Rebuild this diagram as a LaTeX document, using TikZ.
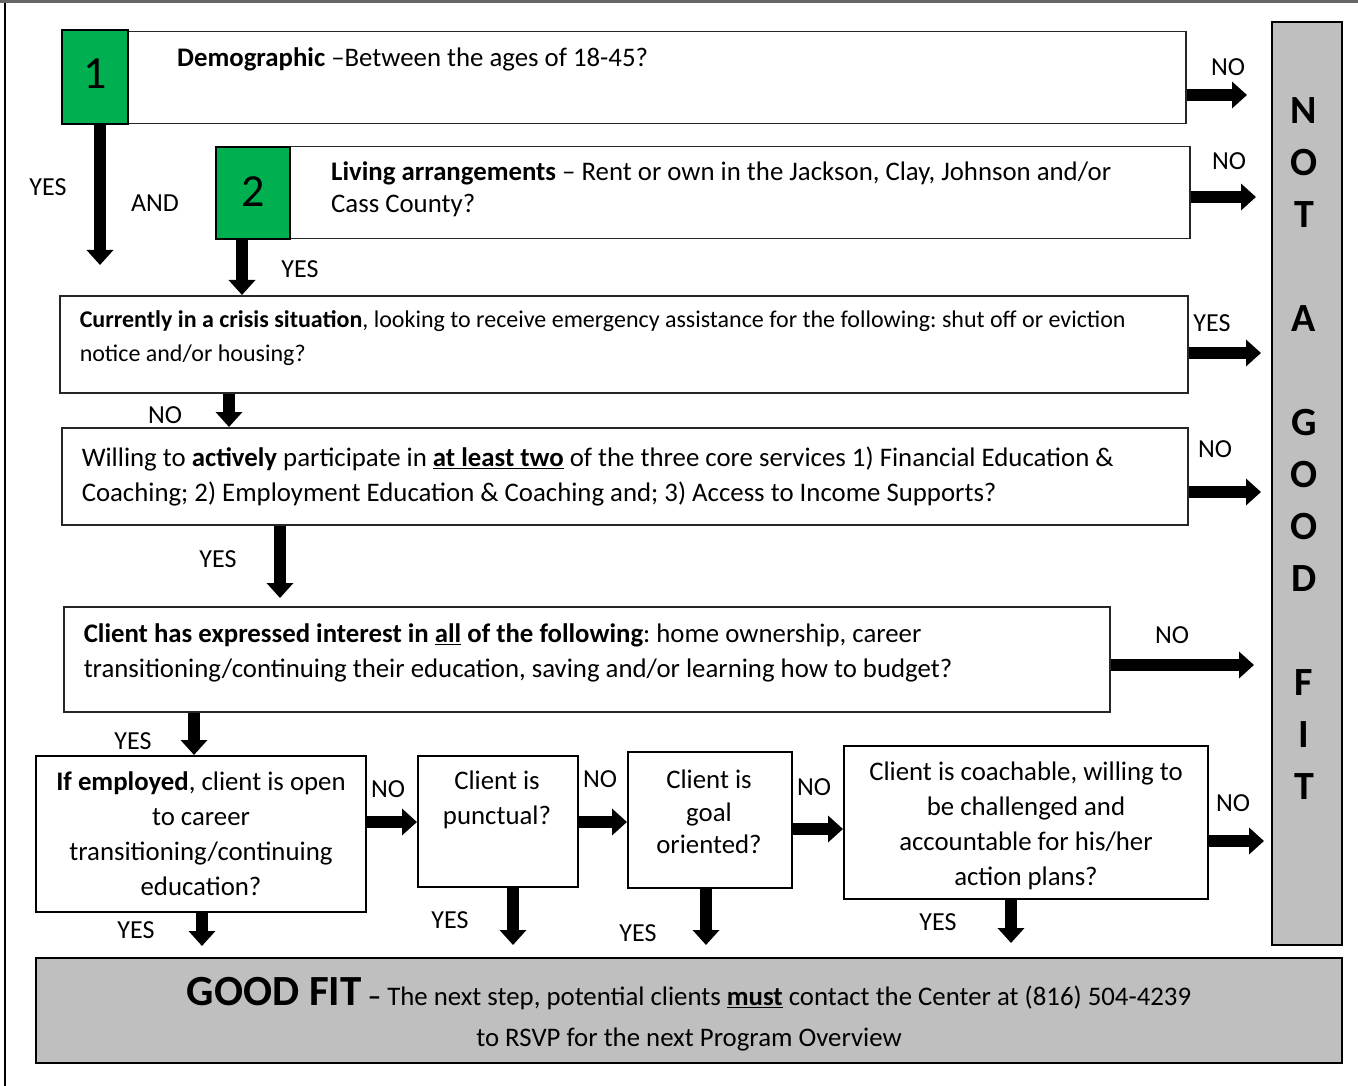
\documentclass[tikz,border=0pt]{standalone}
\usepackage{fontspec}
\setmainfont{Carlito}
\usepackage{tikz}
\usetikzlibrary{arrows.meta}
\definecolor{numgreen}{HTML}{00B050}
\definecolor{outgray}{HTML}{BFBFBF}
\frenchspacing

\begin{document}
\begin{tikzpicture}[x=1pt,y=-1pt]
        %
        % `question' is used for the white boxes with a question.
        % `number' is used for the green boxes 1 and 2.
        % `outcome' is used for the grey boxes.
        % `answer' is used for the YES/NO/AND words.
        \tikzstyle{question} = [draw=black!85,line width=1.5pt,fill=white,anchor=north west,inner xsep=20pt,inner ysep=0pt,align=flush left,font=\fontsize{26.8}{35}\selectfont]
        \tikzstyle{number} = [draw=black,line width=2pt,fill=numgreen,anchor=north west,inner sep=0pt,font=\fontsize{46}{46}\selectfont]
        \tikzstyle{outcome} = [draw=black,line width=2pt,fill=outgray,anchor=north west,inner sep=0pt]
        \tikzstyle{answer} = [inner sep=0pt,font=\fontsize{26}{26}\selectfont]
        \tikzstyle{blockarrow} = [line width=11.5pt,-{Triangle[length=15pt,width=26pt]}]
        %
        \useasboundingbox (0,0) rectangle (1358,1086);
        % Page frame
        \draw[black!60,line width=3pt] (0,2) -- (1358,2);
        \draw[black,line width=2pt] (5,3) -- (5,1086);
        %
        % Question 1
        \node[question,minimum width=1124pt,minimum height=92pt] (q1) at (61,31) {};
        \node[number,minimum width=66pt,minimum height=94pt] (n1) at (61,29) {\raisebox{6pt}{1}};
        \node[anchor=west,inner sep=0pt,font=\fontsize{26.8}{35}\selectfont] (t1) at (177,59) {\textbf{Demographic} –Between the ages of 18-45?};
        %
        % Question 2
        \node[question,minimum width=974pt,minimum height=92pt] (q2) at (215,146) {};
        \node[number,minimum width=74pt,minimum height=92pt] (n2) at (215,146) {\raisebox{3pt}{2}\hspace{10pt}};
        \node[anchor=west,align=flush left,inner sep=0pt,font=\fontsize{26.8}{32}\selectfont] (t2) at (331,189) {\textbf{Living arrangements} – Rent or own in the Jackson, Clay, Johnson and/or\\Cass County?};
        %
        % Question 3
        \node[question,text width=1088pt,text depth=50pt,minimum height=97pt,font=\fontsize{24}{34}\selectfont] (q3) at (59,295) {\textbf{Currently in a crisis situation}, looking to receive emergency assistance for the following: shut off or eviction\\notice and/or housing?};
        %
        % Question 4
        \node[question,text width=1086pt,minimum height=97pt] (q4) at (61,427) {Willing to \textbf{actively} participate in \underline{\textbf{at least two}} of the three core services 1) Financial Education \&\\Coaching; 2) Employment Education \& Coaching and; 3) Access to Income Supports?};
        %
        % Question 5
        \node[question,text width=1006pt,text depth=52pt,minimum height=105pt] (q5) at (63,606) {\textbf{Client has expressed interest in \underline{all} of the following}: home ownership, career\\transitioning/continuing their education, saving and/or learning how to budget?};
        %
        % Bottom row
        \node[question,draw=black,line width=2pt,align=flush center,inner xsep=5pt,text width=320pt,minimum height=156pt] (b6) at (35,755) {\textbf{If employed}, client is open\\to career\\transitioning/continuing\\education?};
        \node[question,draw=black,line width=2pt,minimum width=160pt,minimum height=131pt] (b7) at (417,755) {};
        \node[align=flush center,inner sep=0pt,font=\fontsize{26.8}{35}\selectfont] (t7) at (497,800) {Client is\\punctual?};
        \node[question,draw=black,line width=2pt,minimum width=164pt,minimum height=136pt] (b8) at (627,751) {};
        \node[align=flush center,inner sep=0pt,font=\fontsize{26.8}{32.5}\selectfont] (t8) at (709,812) {Client is\\goal\\oriented?};
        \node[question,draw=black,line width=2pt,align=flush center,inner xsep=5pt,text width=354pt,text depth=102pt,minimum height=153pt] (b9) at (843,745) {Client is coachable, willing to\\be challenged and\\accountable for his/her\\action plans?};
        %
        % Outcomes
        \node[outcome,minimum width=70pt,minimum height=923pt] (notfit) at (1271,21) {};
        \node[align=flush center,inner sep=0pt,font=\fontsize{40}{52}\selectfont\bfseries] (nottext) at (1304,449) {N\\O\\T\\[52pt]A\\[52pt]G\\O\\O\\D\\[52pt]F\\I\\T};
        \node[outcome,text width=1266pt,inner xsep=20pt,text depth=38pt,minimum height=105pt,align=flush center,font=\fontsize{26.8}{41}\selectfont] (goodfit) at (35,957) {{\fontsize{43}{43}\selectfont\textbf{GOOD FIT}} \textbf{–} The next step, potential clients \underline{\textbf{must}} contact the Center at (816) 504-4239\\to RSVP for the next Program Overview};
        %
        % Free ends of the arrows
        \coordinate (e1) at (100,265);
        \coordinate (e2) at (1247,95);
        \coordinate (e3) at (1256,197);
        \coordinate (e4) at (242,295);
        \coordinate (e5) at (1261,353);
        \coordinate (e6) at (229,427);
        \coordinate (e7) at (1261,492);
        \coordinate (e8) at (280,598);
        \coordinate (e9) at (1254,665);
        \coordinate (e10) at (194,755);
        \coordinate (e11) at (414,822);
        \coordinate (e12) at (202,946);
        \coordinate (e13) at (624,822);
        \coordinate (e14) at (513,945);
        \coordinate (e15) at (836,829);
        \coordinate (e16) at (706,945);
        \coordinate (e17) at (1264,841);
        \coordinate (e18) at (1011,943);
        %
        % Arrows
        \draw[blockarrow] (n1.south -| e1) -- (e1);
        \draw[blockarrow] (q1.east |- e2) -- (e2);
        \draw[blockarrow] (q2.east |- e3) -- (e3);
        \draw[blockarrow] (n2.south -| e4) -- (q3.north -| e4);
        \draw[blockarrow] (q3.east |- e5) -- (e5);
        \draw[blockarrow] (q3.south -| e6) -- (q4.north -| e6);
        \draw[blockarrow] (q4.east |- e7) -- (e7);
        \draw[blockarrow] (q4.south -| e8) -- (e8);
        \draw[blockarrow] (q5.east |- e9) -- (e9);
        \draw[blockarrow] (q5.south -| e10) -- (b6.north -| e10);
        \draw[blockarrow] (b6.east |- e11) -- (b7.west |- e11);
        \draw[blockarrow] (b6.south -| e12) -- (e12);
        \draw[blockarrow] (b7.east |- e13) -- (b8.west |- e13);
        \draw[blockarrow] (b7.south -| e14) -- (e14);
        \draw[blockarrow] (b8.east |- e15) -- (b9.west |- e15);
        \draw[blockarrow] (b8.south -| e16) -- (e16);
        \draw[blockarrow] (b9.east |- e17) -- (e17);
        \draw[blockarrow] (b9.south -| e18) -- (e18);
        %
        % Answers
        \node[answer] (yes1) at (48,187) {YES};
        \node[answer] (and1) at (155,203) {AND};
        \node[answer] (no1) at (1228,67) {NO};
        \node[answer] (no2) at (1229,161) {NO};
        \node[answer] (yes2) at (300,269) {YES};
        \node[answer] (yes3) at (1212,323) {YES};
        \node[answer] (no3) at (165,415) {NO};
        \node[answer] (no4) at (1215,449) {NO};
        \node[answer] (yes4) at (218,559) {YES};
        \node[answer] (no5) at (1172,635) {NO};
        \node[answer] (yes5) at (133,741) {YES};
        \node[answer] (no6) at (388,789) {NO};
        \node[answer] (yes6) at (136,930) {YES};
        \node[answer] (no7) at (600,779) {NO};
        \node[answer] (yes7) at (450,920) {YES};
        \node[answer] (no8) at (814,787) {NO};
        \node[answer] (yes8) at (638,933) {YES};
        \node[answer] (no9) at (1233,803) {NO};
        \node[answer] (yes9) at (938,922) {YES};
        %
\end{tikzpicture}
\end{document}
